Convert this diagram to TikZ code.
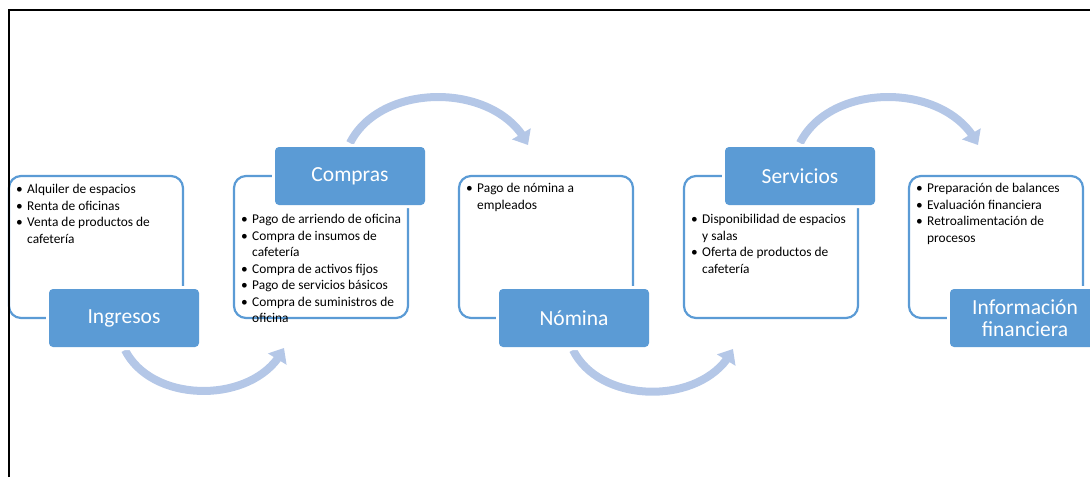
\documentclass[tikz,border=0pt]{standalone}
\usepackage{fontspec}
\setmainfont{Carlito}
\usetikzlibrary{arrows.meta,bending}
\definecolor{azul}{HTML}{5B9BD5}
\definecolor{celeste}{HTML}{B4C7E7}
\newcommand{\vineta}{\makebox[11pt][l]{\textbullet}}
\newcommand{\sangria}{\hspace*{11pt}}
\tikzset{
  caja/.style={draw=azul, line width=2.2pt, rounded corners=12pt, minimum width=174pt, minimum height=142pt, inner sep=0pt, outer sep=0pt},
  titulo/.style={fill=azul, rounded corners=4pt, minimum width=150pt, minimum height=58pt, inner sep=0pt, text=white, align=center, font=\fontsize{21.5}{21.5}\selectfont, preaction={draw=white, line width=6pt}},
  lista/.style={anchor=north west, align=left, inner sep=0pt, font=\fontsize{13.4}{16.5}\selectfont},
  flecha/.style={draw=celeste, line width=8pt, -{Triangle[length=13pt,width=21pt]}}
}
\begin{document}
\begin{tikzpicture}[x=1pt,y=1pt]
    \useasboundingbox (0,0) rectangle (1090,-477);
    \clip (0,0) rectangle (1090,-477);

    \node[caja] (ingresosCaja) at (96,-247) {};
    \node[caja] (comprasCaja) at (321,-247) {};
    \node[caja] (nominaCaja) at (546,-247) {};
    \node[caja] (serviciosCaja) at (771,-247) {};
    \node[caja] (informacionCaja) at (996,-247) {};

    \coordinate (sale1) at (125,-350);
    \coordinate (llega1) at (284,-348);
    \coordinate (sale2) at (350,-143);
    \coordinate (llega2) at (528,-145);
    \coordinate (sale3) at (573,-350);
    \coordinate (llega3) at (733,-349);
    \coordinate (sale4) at (800,-143);
    \coordinate (llega4) at (978,-145);
    \draw[flecha] (sale1) to[bend right=64] (llega1);
    \draw[flecha] (sale2) to[bend left=64] (llega2);
    \draw[flecha] (sale3) to[bend right=64] (llega3);
    \draw[flecha] (sale4) to[bend left=64] (llega4);

    \node[titulo] (ingresos) at (124,-318) {Ingresos};
    \node[titulo] (compras) at (350,-176) {Compras};
    \node[titulo] (nomina) at (574,-318) {Nómina};
    \node[titulo] (servicios) at (800,-176) {Servicios};
    \node[titulo] (informacion) at (1025,-318) {Información\\financiera};

    \node[lista] (ingresosLista) at (16,-184) {\vineta Alquiler de espacios\\
        \vineta Renta de oficinas\\
        \vineta Venta de productos de\\
        \sangria cafetería};
    \node[lista] (comprasLista) at (241,-214) {\vineta Pago de arriendo de oficina\\
        \vineta Compra de insumos de\\
        \sangria cafetería\\
        \vineta Compra de activos fijos\\
        \vineta Pago de servicios básicos\\
        \vineta Compra de suministros de\\
        \sangria oficina};
    \node[lista] (nominaLista) at (466,-183) {\vineta Pago de nómina a\\
        \sangria empleados};
    \node[lista] (serviciosLista) at (691,-214) {\vineta Disponibilidad de espacios\\
        \sangria y salas\\
        \vineta Oferta de productos de\\
        \sangria cafetería};
    \node[lista] (informacionLista) at (916,-183) {\vineta Preparación de balances\\
        \vineta Evaluación financiera\\
        \vineta Retroalimentación de\\
        \sangria procesos};

    \draw[line width=2pt] (9,-477) -- (9,-10) -- (1090,-10);
\end{tikzpicture}
\end{document}
